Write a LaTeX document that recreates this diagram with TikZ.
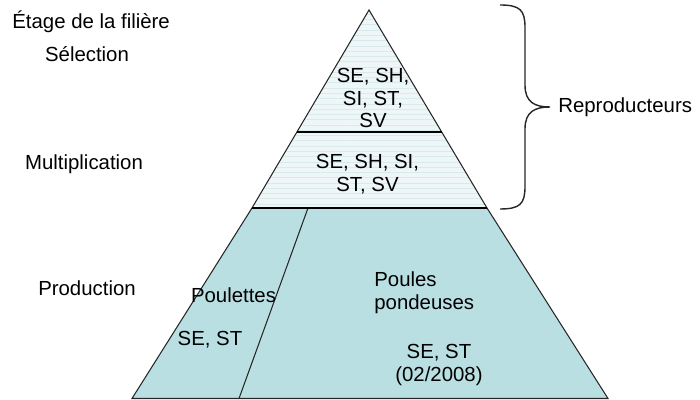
\documentclass[tikz,border=0pt]{standalone}
\usepackage{fontspec}
\setmainfont{Liberation Sans}
\usetikzlibrary{patterns}

\definecolor{prodfill}{HTML}{BADFE3}
\definecolor{reprofill}{HTML}{EEF6F7}
\definecolor{stripe}{HTML}{D9EAED}

\tikzstyle{lbl}=[inner sep=0pt, font=\fontsize{11.6}{13}\selectfont]
\tikzstyle{blk}=[lbl, align=center]
\tikzstyle{edge}=[line width=0.6pt, black!85]
\tikzstyle{bar}=[line width=1.7pt, black]

\begin{document}
\begin{tikzpicture}
      \useasboundingbox (0,0) rectangle (14,8);
      % corners of the pyramid
      \coordinate (apex) at (7.38, 7.80);
      \coordinate (s1)   at (5.94, 5.36);
      \coordinate (s2)   at (8.84, 5.36);
      \coordinate (m1)   at (5.04, 3.84);
      \coordinate (m2)   at (9.74, 3.84);
      \coordinate (p1)   at (2.64, 0.03);
      \coordinate (p2)   at (12.16, 0.03);
      \coordinate (d1)   at (6.16, 3.84);
      \coordinate (d2)   at (4.78, 0.03);

      % reproducteurs
      \fill[reprofill] (apex) -- (m2) -- (m1) -- cycle;
      \fill[pattern=horizontal lines, pattern color=stripe] (apex) -- (m2) -- (m1) -- cycle;
      \draw[edge] (m1) -- (apex) -- (m2);
      % production
      \fill[prodfill] (m1) -- (m2) -- (p2) -- (p1) -- cycle;
      \draw[edge] (m1) -- (p1) -- (p2) -- (m2);
      \draw[edge] (d1) -- (d2);
      \draw[bar] (s1) -- (s2);
      \draw[bar] (m1) -- (m2);

      \node[blk] (sel)   at (7.46, 6.04) {SE, SH,\\SI, ST,\\SV};
      \node[blk] (mul)   at (7.35, 4.51) {SE, SH, SI,\\ST, SV};
      \node[blk] (pett)  at (4.67, 2.10) {Poulettes};
      \node[blk] (pettv) at (4.20, 1.20) {SE, ST};
      \node[lbl, align=left, anchor=west] (pond) at (7.48, 2.15) {Poules\\pondeuses};
      \node[blk] (pondv) at (8.78, 0.70) {SE, ST\\(02/2008)};

      \node[lbl, anchor=base west] (etage) at (0.24, 7.42) {Étage de la filière};
      \node[lbl, anchor=base] (lsel)  at (1.74, 6.76) {Sélection};
      \node[lbl, anchor=base] (lmul)  at (1.68, 4.60) {Multiplication};
      \node[lbl, anchor=base] (lprod) at (1.74, 2.08) {Production};

      % accolade
      \draw[edge, line width=0.8pt] (10.0,7.90) .. controls (10.4,7.90) and (10.5,7.80) .. (10.5,7.45)
            -- (10.5,6.30) .. controls (10.5,5.95) and (10.7,5.86) .. (11.0,5.86)
            .. controls (10.7,5.86) and (10.5,5.77) .. (10.5,5.42)
            -- (10.5,4.27) .. controls (10.5,3.92) and (10.4,3.82) .. (10.0,3.82);
      \node[lbl, anchor=west] (repro) at (11.16, 5.86) {Reproducteurs};
    \end{tikzpicture}
\end{document}
